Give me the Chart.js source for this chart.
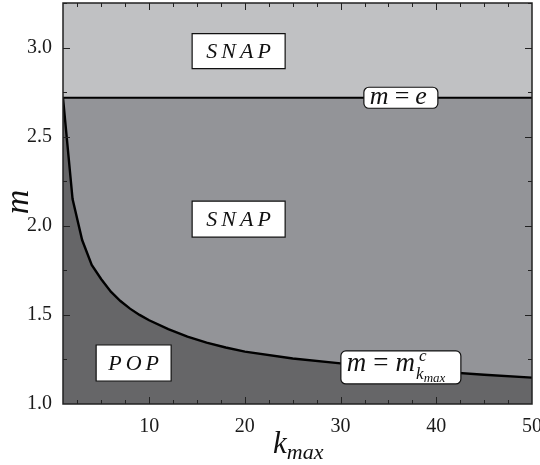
<!DOCTYPE html>
<html>
<head>
<meta charset="utf-8">
<script src="https://cdn.jsdelivr.net/npm/chart.js@4"></script>
<style>
  body { margin: 0; background: #fff; }
  #phase-chart { display: block; }
  .font-warm { position: absolute; left: -1000px; top: 0; font-family: "Liberation Serif", serif; font-size: 20px; }
</style>
</head>
<body>
<div class="font-warm">1.0 2.5 SNAP POP <i>m k max e c</i></div>
<canvas id="phase-chart" width="540" height="465"></canvas>
<script>
// kmax values and the critical m
const kValues = [1, 2, 3, 4, 5, 6, 7, 8, 9, 10, 12, 14, 16, 18, 20, 25, 30, 35, 40, 45, 50];
const mCritical = [2.718, 2.15, 1.92, 1.78, 1.70, 1.63, 1.578, 1.535, 1.50, 1.47,
                   1.42, 1.378, 1.344, 1.317, 1.294, 1.255, 1.228, 1.205, 1.183, 1.164, 1.148];
const eLineK = [1, 50];
const xTickValues = [10, 20, 30, 40, 50];
const yTickValues = [1.0, 1.5, 2.0, 2.5, 3.0];

const SERIF = '"Liberation Serif", serif';
const TOP_GRAY = '#c0c1c3';
const MID_GRAY = '#939498';
const LOW_GRAY = '#666668';

function drawSpaced(ctx, text, cx, cy, spacing) {
    const widths = [...text].map(ch => ctx.measureText(ch).width);
    const total = widths.reduce((a, b) => a + b, 0) + spacing * (text.length - 1);
    let x = cx - total / 2;
    ctx.textAlign = 'left';
    [...text].forEach((ch, i) => {
        ctx.fillText(ch, x, cy);
        x += widths[i] + spacing;
    });
}

function roundRect(ctx, x, y, w, h, r) {
    ctx.beginPath();
    ctx.moveTo(x + r, y);
    ctx.arcTo(x + w, y, x + w, y + h, r);
    ctx.arcTo(x + w, y + h, x, y + h, r);
    ctx.arcTo(x, y + h, x, y, r);
    ctx.arcTo(x, y, x + w, y, r);
    ctx.closePath();
}

function box(ctx, cx, cy, w, h, r) {
    ctx.save();
    ctx.fillStyle = '#fff';
    ctx.strokeStyle = '#111';
    ctx.lineWidth = 1.2;
    if (r) {
        roundRect(ctx, cx - w / 2, cy - h / 2, w, h, r);
    } else {
        ctx.beginPath();
        ctx.rect(cx - w / 2, cy - h / 2, w, h);
    }
    ctx.fill();
    ctx.stroke();
    ctx.restore();
}

const phasePlugin = {
    id: 'phase',
    beforeDatasetsDraw(chart) {
        const a = chart.chartArea;
        const ctx = chart.ctx;
        ctx.save();
        ctx.fillStyle = MID_GRAY;
        ctx.fillRect(a.left, a.top, a.right - a.left, a.bottom - a.top);
        ctx.restore();
    },
    afterDatasetsDraw(chart) {
        const a = chart.chartArea;
        const ctx = chart.ctx;
        const xs = chart.scales.x;
        const ys = chart.scales.y;

        // inward ticks on all four sides
        ctx.save();
        ctx.strokeStyle = '#222';
        ctx.lineWidth = 1;
        ctx.beginPath();
        for (let k = 2.5; k < 50; k += 2.5) {
            const px = Math.round(xs.getPixelForValue(k)) + 0.5;
            const len = k % 10 === 0 ? 7 : 4;
            ctx.moveTo(px, a.bottom); ctx.lineTo(px, a.bottom - len);
            ctx.moveTo(px, a.top); ctx.lineTo(px, a.top + len);
        }
        for (let m = 1.25; m < 3.3; m += 0.25) {
            const py = Math.round(ys.getPixelForValue(m)) + 0.5;
            const len = Math.abs(m * 2 - Math.round(m * 2)) < 1e-6 ? 7 : 4;
            ctx.moveTo(a.left, py); ctx.lineTo(a.left + len, py);
            ctx.moveTo(a.right, py); ctx.lineTo(a.right - len, py);
        }
        ctx.stroke();
        ctx.lineWidth = 1.5;
        ctx.strokeRect(a.left, a.top, a.right - a.left, a.bottom - a.top);
        ctx.restore();

        // region labels
        ctx.save();
        ctx.fillStyle = '#111';
        ctx.textBaseline = 'middle';
        ctx.font = 'italic 22px ' + SERIF;
        let cx = xs.getPixelForValue(19.35), cy = ys.getPixelForValue(2.98);
        box(ctx, cx, cy, 93, 35);
        drawSpaced(ctx, 'SNAP', cx, cy + 1, 4);
        cy = ys.getPixelForValue(2.037);
        box(ctx, cx, cy, 93, 36);
        drawSpaced(ctx, 'SNAP', cx, cy + 1, 4);
        cx = xs.getPixelForValue(8.38); cy = ys.getPixelForValue(1.23);
        box(ctx, cx, cy, 75, 36);
        drawSpaced(ctx, 'POP', cx, cy + 1, 4);

        // curve labels
        ctx.textAlign = 'left';
        ctx.textBaseline = 'alphabetic';
        cx = xs.getPixelForValue(36.3); cy = ys.getPixelForValue(Math.E);
        box(ctx, cx, cy, 74, 21, 5);
        let x = cx - 31, base = cy + 6;
        ctx.font = 'italic 26px ' + SERIF;
        ctx.fillText('m', x, base); x += ctx.measureText('m').width + 6;
        ctx.font = '26px ' + SERIF;
        ctx.fillText('=', x, base); x += ctx.measureText('=').width + 6;
        ctx.font = 'italic 26px ' + SERIF;
        ctx.fillText('e', x, base);

        cy = ys.getPixelForValue(1.205);
        box(ctx, cx, cy, 120, 33, 5);
        x = cx - 54; base = cy + 4;
        ctx.font = 'italic 27px ' + SERIF;
        ctx.fillText('m', x, base); x += ctx.measureText('m').width + 7;
        ctx.font = '27px ' + SERIF;
        ctx.fillText('=', x, base); x += ctx.measureText('=').width + 7;
        ctx.font = 'italic 27px ' + SERIF;
        ctx.fillText('m', x, base); x += ctx.measureText('m').width + 1;
        ctx.font = 'italic 17px ' + SERIF;
        ctx.fillText('c', x + 3, base - 10);
        ctx.fillText('k', x, base + 8);
        const kw = ctx.measureText('k').width;
        ctx.font = 'italic 13px ' + SERIF;
        ctx.fillText('max', x + kw, base + 11);
        ctx.restore();
    },
    afterDraw(chart) {
        const ctx = chart.ctx;
        ctx.save();
        ctx.fillStyle = '#111';
        ctx.textBaseline = 'alphabetic';
        // y title
        ctx.translate(28, 202);
        ctx.rotate(-Math.PI / 2);
        ctx.font = 'italic 34px ' + SERIF;
        ctx.textAlign = 'center';
        ctx.fillText('m', 0, 0);
        ctx.restore();

        ctx.save();
        ctx.fillStyle = '#111';
        ctx.textAlign = 'left';
        ctx.font = 'italic 31px ' + SERIF;
        ctx.fillText('k', 273, 453);
        const kw = ctx.measureText('k').width;
        ctx.font = 'italic 22px ' + SERIF;
        ctx.fillText('max', 273 + kw, 459);
        ctx.restore();
    }
};

function drawChart() {
    const ctx = document.getElementById('phase-chart').getContext('2d');

    new Chart(ctx, {
        type: 'line',
        data: {
            datasets: [
                {
                    label: 'm = e',
                    data: eLineK.map(k => ({ x: k, y: Math.E })),
                    borderColor: '#000',
                    borderWidth: 2.2,
                    backgroundColor: TOP_GRAY,
                    fill: 'end',
                    pointRadius: 0,
                },
                {
                    label: 'm = m^c_kmax',
                    data: kValues.map((k, i) => ({ x: k, y: mCritical[i] })),
                    borderColor: '#000',
                    borderWidth: 2.4,
                    backgroundColor: LOW_GRAY,
                    fill: 'start',
                    pointRadius: 0,
                    tension: 0,
                },
            ],
        },
        options: {
            responsive: false,
            animation: false,
            layout: { padding: { top: 3, right: 8, left: 0, bottom: 0 } },
            plugins: {
                legend: { display: false },
                tooltip: { enabled: false },
            },
            scales: {
                x: {
                    type: 'linear',
                    min: 1,
                    max: 50,
                    grid: { display: false },
                    border: { display: false },
                    afterBuildTicks: scale => { scale.ticks = xTickValues.map(v => ({ value: v })); },
                    afterFit: scale => { scale.height = 61; scale.paddingLeft = 0; scale.paddingRight = 0; },
                    ticks: {
                        autoSkip: false,
                        maxRotation: 0,
                        padding: 3,
                        color: '#1a1a1a',
                        font: { family: SERIF, size: 20 },
                        callback: v => String(v),
                    },
                },
                y: {
                    type: 'linear',
                    min: 1,
                    max: 3.25,
                    grid: { display: false },
                    border: { display: false },
                    afterBuildTicks: scale => { scale.ticks = yTickValues.map(v => ({ value: v })); },
                    afterFit: scale => { scale.width = 63; scale.paddingTop = 0; scale.paddingBottom = 0; },
                    ticks: {
                        autoSkip: false,
                        padding: 3,
                        color: '#1a1a1a',
                        font: { family: SERIF, size: 20 },
                        callback: v => Number(v).toFixed(1),
                    },
                },
            },
        },
        plugins: [phasePlugin],
    });
}

Promise.all([
    document.fonts.load('20px "Liberation Serif"'),
    document.fonts.load('italic 20px "Liberation Serif"'),
]).then(drawChart, drawChart);
</script>
</body>
</html>
